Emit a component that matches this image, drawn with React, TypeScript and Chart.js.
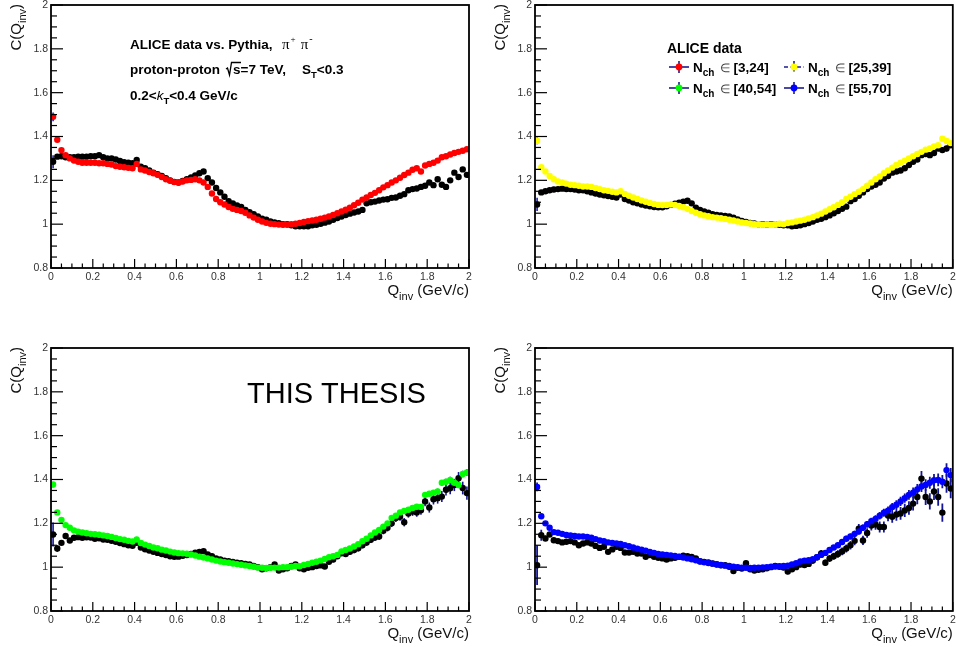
import React, { useEffect, useRef } from 'react';
import { Chart, registerables } from 'chart.js';

Chart.register(...registerables);

// ---------------- data ----------------
const Q_BINS = [
  0.01, 0.03, 0.05, 0.07, 0.09, 0.11, 0.13, 0.15, 0.17, 0.19,
  0.21, 0.23, 0.25, 0.27, 0.29, 0.31, 0.33, 0.35, 0.37, 0.39,
  0.41, 0.43, 0.45, 0.47, 0.49, 0.51, 0.53, 0.55, 0.57, 0.59,
  0.61, 0.63, 0.65, 0.67, 0.69, 0.71, 0.73, 0.75, 0.77, 0.79,
  0.81, 0.83, 0.85, 0.87, 0.89, 0.91, 0.93, 0.95, 0.97, 0.99,
  1.01, 1.03, 1.05, 1.07, 1.09, 1.11, 1.13, 1.15, 1.17, 1.19,
  1.21, 1.23, 1.25, 1.27, 1.29, 1.31, 1.33, 1.35, 1.37, 1.39,
  1.41, 1.43, 1.45, 1.47, 1.49, 1.51, 1.53, 1.55, 1.57, 1.59,
  1.61, 1.63, 1.65, 1.67, 1.69, 1.71, 1.73, 1.75, 1.77, 1.79,
  1.81, 1.83, 1.85, 1.87, 1.89, 1.91, 1.93, 1.95, 1.97, 1.99,
];

const X_TICKS = [0, 0.2, 0.4, 0.6, 0.8, 1, 1.2, 1.4, 1.6, 1.8, 2];
const Y_TICKS = [0.8, 1, 1.2, 1.4, 1.6, 1.8, 2];

// Nch in [3,24]
const ALICE_3_24 = [
  1.49, 1.385, 1.338, 1.315, 1.3, 1.29, 1.285, 1.28, 1.28, 1.28,
  1.28, 1.278, 1.278, 1.275, 1.272, 1.265, 1.262, 1.26, 1.257, 1.255,
  1.275, 1.25, 1.245, 1.238, 1.232, 1.225, 1.215, 1.205, 1.198, 1.192,
  1.19, 1.195, 1.2, 1.202, 1.205, 1.2, 1.19, 1.17, 1.14, 1.115,
  1.1, 1.09, 1.078, 1.07, 1.065, 1.06, 1.052, 1.04, 1.03, 1.02,
  1.012, 1.006, 1.002, 1.0, 0.998, 0.997, 0.997, 1.0, 1.002, 1.005,
  1.01, 1.014, 1.017, 1.02, 1.025, 1.03, 1.035, 1.042, 1.05, 1.058,
  1.066, 1.075, 1.086, 1.098, 1.112, 1.122, 1.133, 1.143, 1.155, 1.168,
  1.178, 1.19, 1.2, 1.212, 1.224, 1.235, 1.248, 1.255, 1.24, 1.268,
  1.275, 1.28, 1.29, 1.305, 1.31, 1.318, 1.325, 1.33, 1.335, 1.342,
];
const PYTHIA_3_24 = [
  1.285, 1.308, 1.31, 1.305, 1.305, 1.305, 1.308, 1.308, 1.308, 1.31,
  1.31, 1.315, 1.305, 1.3, 1.3, 1.295, 1.288, 1.283, 1.28, 1.278,
  1.293, 1.262, 1.255, 1.245, 1.235, 1.228, 1.22, 1.21, 1.2, 1.193,
  1.19, 1.197, 1.205, 1.213, 1.222, 1.232, 1.24, 1.21, 1.19, 1.165,
  1.145, 1.125, 1.105, 1.095, 1.085, 1.078, 1.065, 1.055, 1.045, 1.035,
  1.025, 1.02, 1.012, 1.008, 1.004, 1.0, 1.0, 0.995, 0.99, 0.99,
  0.99, 0.99, 0.995, 0.997, 1.002, 1.007, 1.012, 1.02, 1.028, 1.035,
  1.042, 1.048, 1.053, 1.058, 1.065, 1.095, 1.1, 1.103, 1.108, 1.112,
  1.114, 1.12, 1.122, 1.13, 1.137, 1.155, 1.16, 1.163, 1.17, 1.175,
  1.19, 1.178, 1.205, 1.18, 1.17, 1.2, 1.235, 1.215, 1.25, 1.225,
];
const ERR_ALICE_3_24 = [
  0.02, 0.006, 0.004, 0.003, 0.003, 0.003, 0.003, 0.003, 0.003, 0.003,
  0.003, 0.003, 0.003, 0.003, 0.003, 0.003, 0.003, 0.003, 0.003, 0.003,
  0.003, 0.003, 0.003, 0.003, 0.003, 0.003, 0.003, 0.003, 0.003, 0.003,
  0.003, 0.003, 0.003, 0.003, 0.003, 0.003, 0.003, 0.003, 0.003, 0.003,
  0.003, 0.003, 0.003, 0.003, 0.003, 0.003, 0.003, 0.003, 0.003, 0.003,
  0.003, 0.003, 0.003, 0.003, 0.003, 0.003, 0.003, 0.003, 0.003, 0.003,
  0.003, 0.003, 0.003, 0.003, 0.003, 0.003, 0.003, 0.003, 0.003, 0.003,
  0.004, 0.004, 0.004, 0.004, 0.004, 0.004, 0.004, 0.004, 0.004, 0.004,
  0.004, 0.004, 0.004, 0.004, 0.004, 0.004, 0.004, 0.004, 0.004, 0.004,
  0.005, 0.005, 0.005, 0.005, 0.005, 0.005, 0.005, 0.005, 0.005, 0.005,
];
const ERR_PYTHIA_3_24 = [
  0.03, 0.008, 0.005, 0.004, 0.004, 0.004, 0.004, 0.004, 0.004, 0.004,
  0.004, 0.004, 0.004, 0.004, 0.004, 0.004, 0.004, 0.004, 0.004, 0.004,
  0.004, 0.004, 0.004, 0.004, 0.004, 0.004, 0.004, 0.004, 0.004, 0.004,
  0.004, 0.004, 0.004, 0.004, 0.004, 0.004, 0.004, 0.004, 0.004, 0.004,
  0.004, 0.004, 0.004, 0.004, 0.004, 0.004, 0.004, 0.004, 0.004, 0.004,
  0.004, 0.004, 0.004, 0.004, 0.004, 0.004, 0.004, 0.004, 0.004, 0.004,
  0.005, 0.005, 0.005, 0.005, 0.005, 0.005, 0.005, 0.005, 0.005, 0.005,
  0.005, 0.005, 0.005, 0.005, 0.005, 0.005, 0.005, 0.005, 0.005, 0.005,
  0.006, 0.006, 0.006, 0.006, 0.006, 0.006, 0.006, 0.006, 0.006, 0.006,
  0.007, 0.007, 0.007, 0.007, 0.007, 0.007, 0.007, 0.007, 0.007, 0.007,
];

// Nch in [25,39]
const ALICE_25_39 = [
  1.38, 1.26, 1.24, 1.22, 1.205, 1.195, 1.19, 1.185, 1.18, 1.178,
  1.175, 1.172, 1.172, 1.17, 1.165, 1.16, 1.155, 1.152, 1.148, 1.145,
  1.15, 1.138, 1.13, 1.122, 1.115, 1.108, 1.102, 1.097, 1.092, 1.088,
  1.087, 1.088, 1.09, 1.088, 1.083, 1.077, 1.07, 1.06, 1.052, 1.045,
  1.04, 1.036, 1.032, 1.03, 1.027, 1.024, 1.02, 1.017, 1.012, 1.008,
  1.005, 1.003, 1.0, 1.0, 0.998, 0.998, 0.997, 1.0, 1.002, 1.0,
  1.005, 1.008, 1.012, 1.016, 1.02, 1.026, 1.032, 1.04, 1.048, 1.058,
  1.068, 1.077, 1.088, 1.1, 1.115, 1.125, 1.137, 1.148, 1.16, 1.175,
  1.19, 1.205, 1.218, 1.232, 1.245, 1.258, 1.27, 1.28, 1.29, 1.3,
  1.31, 1.32, 1.33, 1.34, 1.345, 1.355, 1.36, 1.39, 1.38, 1.37,
];
const PYTHIA_25_39 = [
  1.09, 1.145, 1.15, 1.155, 1.158, 1.16, 1.162, 1.16, 1.16, 1.158,
  1.155, 1.155, 1.15, 1.145, 1.14, 1.135, 1.132, 1.128, 1.125, 1.122,
  1.135, 1.115, 1.108, 1.1, 1.095, 1.09, 1.085, 1.082, 1.078, 1.077,
  1.077, 1.082, 1.088, 1.093, 1.098, 1.103, 1.107, 1.095, 1.075, 1.065,
  1.058, 1.052, 1.046, 1.042, 1.04, 1.038, 1.035, 1.03, 1.022, 1.015,
  1.01, 1.005, 1.003, 1.0, 1.0, 0.998, 1.0, 1.0, 0.997, 0.995,
  0.995, 0.99, 0.992, 0.995, 1.0, 1.005, 1.012, 1.02, 1.025, 1.032,
  1.04, 1.05, 1.06, 1.07, 1.08, 1.105, 1.115, 1.13, 1.145, 1.16,
  1.172, 1.18, 1.19, 1.208, 1.22, 1.235, 1.24, 1.245, 1.255, 1.27,
  1.285, 1.295, 1.315, 1.32, 1.315, 1.325, 1.345, 1.338, 1.345, 1.36,
];
const ERR_ALICE_25_39 = [
  0.015, 0.005, 0.004, 0.003, 0.003, 0.003, 0.003, 0.003, 0.003, 0.003,
  0.003, 0.003, 0.003, 0.003, 0.003, 0.003, 0.003, 0.003, 0.003, 0.003,
  0.003, 0.003, 0.003, 0.003, 0.003, 0.003, 0.003, 0.003, 0.003, 0.003,
  0.003, 0.003, 0.003, 0.003, 0.003, 0.003, 0.003, 0.003, 0.003, 0.003,
  0.003, 0.003, 0.003, 0.003, 0.003, 0.003, 0.003, 0.003, 0.003, 0.003,
  0.003, 0.003, 0.003, 0.003, 0.003, 0.003, 0.003, 0.003, 0.003, 0.003,
  0.004, 0.004, 0.004, 0.004, 0.004, 0.004, 0.004, 0.004, 0.004, 0.004,
  0.004, 0.004, 0.004, 0.004, 0.004, 0.005, 0.005, 0.005, 0.005, 0.005,
  0.005, 0.005, 0.005, 0.005, 0.005, 0.006, 0.006, 0.006, 0.006, 0.006,
  0.006, 0.006, 0.006, 0.007, 0.007, 0.007, 0.007, 0.007, 0.007, 0.007,
];
const ERR_PYTHIA_25_39 = [
  0.03, 0.01, 0.006, 0.005, 0.004, 0.004, 0.004, 0.004, 0.004, 0.004,
  0.004, 0.004, 0.004, 0.004, 0.004, 0.004, 0.004, 0.004, 0.004, 0.004,
  0.004, 0.004, 0.004, 0.004, 0.004, 0.004, 0.004, 0.004, 0.004, 0.004,
  0.004, 0.004, 0.004, 0.004, 0.004, 0.004, 0.004, 0.004, 0.004, 0.004,
  0.004, 0.004, 0.004, 0.004, 0.004, 0.004, 0.004, 0.004, 0.004, 0.004,
  0.005, 0.005, 0.005, 0.005, 0.005, 0.005, 0.005, 0.005, 0.005, 0.005,
  0.005, 0.005, 0.005, 0.005, 0.005, 0.006, 0.006, 0.006, 0.006, 0.006,
  0.006, 0.006, 0.006, 0.007, 0.007, 0.007, 0.007, 0.007, 0.008, 0.008,
  0.008, 0.008, 0.009, 0.009, 0.009, 0.009, 0.01, 0.01, 0.01, 0.01,
  0.011, 0.011, 0.011, 0.011, 0.012, 0.012, 0.012, 0.012, 0.013, 0.013,
];

// Nch in [40,54]
const ALICE_40_54 = [
  1.377, 1.25, 1.216, 1.192, 1.18, 1.168, 1.162, 1.158, 1.155, 1.152,
  1.15, 1.148, 1.145, 1.142, 1.138, 1.133, 1.128, 1.125, 1.12, 1.117,
  1.126, 1.11, 1.103, 1.097, 1.09, 1.086, 1.08, 1.076, 1.071, 1.067,
  1.064, 1.063, 1.061, 1.058, 1.053, 1.048, 1.044, 1.04, 1.035, 1.03,
  1.026, 1.023, 1.02, 1.017, 1.014, 1.011, 1.008, 1.005, 1.002, 0.998,
  0.997, 0.996, 0.997, 0.998, 0.998, 1.0, 1.0, 1.002, 1.005, 1.004,
  1.01, 1.015, 1.02, 1.025, 1.03, 1.037, 1.045, 1.05, 1.056, 1.072,
  1.078, 1.085, 1.094, 1.105, 1.118, 1.13, 1.145, 1.158, 1.17, 1.185,
  1.2, 1.225, 1.235, 1.25, 1.256, 1.262, 1.27, 1.276, 1.275, 1.33,
  1.335, 1.34, 1.345, 1.385, 1.39, 1.398, 1.385, 1.375, 1.425, 1.432,
];
const PYTHIA_40_54 = [
  1.149, 1.085, 1.111, 1.142, 1.122, 1.134, 1.137, 1.134, 1.136, 1.135,
  1.13, 1.132, 1.126, 1.125, 1.12, 1.116, 1.11, 1.105, 1.1, 1.098,
  1.111, 1.09, 1.082, 1.076, 1.07, 1.065, 1.06, 1.055, 1.05, 1.047,
  1.048, 1.052, 1.055, 1.06, 1.066, 1.07, 1.073, 1.058, 1.05, 1.04,
  1.035, 1.03, 1.027, 1.024, 1.02, 1.018, 1.015, 1.012, 1.005, 1.0,
  0.99, 0.995, 1.0, 1.012, 0.985, 0.99, 0.995, 1.005, 1.012, 0.995,
  0.99, 0.997, 1.0, 1.005, 1.008, 1.003, 1.025, 1.035, 1.05, 1.063,
  1.06, 1.07, 1.078, 1.086, 1.1, 1.112, 1.125, 1.135, 1.14, 1.166,
  1.18, 1.2, 1.224, 1.23, 1.205, 1.245, 1.254, 1.25, 1.26, 1.3,
  1.272, 1.31, 1.315, 1.322, 1.353, 1.36, 1.375, 1.406, 1.361, 1.338,
];
const ERR_ALICE_40_54 = [
  0.012, 0.005, 0.004, 0.004, 0.004, 0.004, 0.004, 0.004, 0.004, 0.004,
  0.004, 0.004, 0.004, 0.004, 0.004, 0.004, 0.004, 0.004, 0.004, 0.004,
  0.004, 0.004, 0.004, 0.004, 0.004, 0.004, 0.004, 0.004, 0.004, 0.004,
  0.004, 0.004, 0.004, 0.004, 0.004, 0.004, 0.004, 0.004, 0.004, 0.004,
  0.004, 0.004, 0.004, 0.004, 0.004, 0.004, 0.004, 0.004, 0.004, 0.004,
  0.005, 0.005, 0.005, 0.005, 0.005, 0.005, 0.005, 0.005, 0.005, 0.005,
  0.006, 0.006, 0.006, 0.006, 0.006, 0.006, 0.006, 0.007, 0.007, 0.007,
  0.007, 0.007, 0.008, 0.008, 0.008, 0.008, 0.009, 0.009, 0.009, 0.009,
  0.01, 0.01, 0.01, 0.01, 0.011, 0.011, 0.011, 0.011, 0.012, 0.012,
  0.012, 0.012, 0.013, 0.013, 0.013, 0.014, 0.014, 0.014, 0.015, 0.015,
];
const ERR_PYTHIA_40_54 = [
  0.055, 0.015, 0.01, 0.008, 0.007, 0.006, 0.006, 0.006, 0.006, 0.006,
  0.006, 0.006, 0.006, 0.006, 0.006, 0.006, 0.006, 0.006, 0.006, 0.006,
  0.006, 0.006, 0.006, 0.006, 0.006, 0.006, 0.006, 0.006, 0.006, 0.006,
  0.006, 0.006, 0.006, 0.006, 0.006, 0.006, 0.006, 0.006, 0.006, 0.006,
  0.006, 0.006, 0.006, 0.006, 0.006, 0.006, 0.006, 0.006, 0.006, 0.006,
  0.008, 0.008, 0.008, 0.008, 0.008, 0.008, 0.008, 0.008, 0.008, 0.008,
  0.01, 0.01, 0.01, 0.01, 0.011, 0.011, 0.011, 0.012, 0.012, 0.012,
  0.013, 0.013, 0.014, 0.014, 0.014, 0.015, 0.015, 0.016, 0.016, 0.016,
  0.017, 0.017, 0.018, 0.018, 0.019, 0.019, 0.02, 0.02, 0.021, 0.022,
  0.023, 0.024, 0.025, 0.025, 0.026, 0.027, 0.028, 0.028, 0.029, 0.03,
];

// Nch in [55,70]
const ALICE_55_70 = [
  1.366, 1.232, 1.2, 1.18, 1.16, 1.157, 1.152, 1.147, 1.145, 1.142,
  1.14, 1.14, 1.138, 1.134, 1.128, 1.122, 1.118, 1.113, 1.11, 1.108,
  1.106, 1.1, 1.096, 1.09, 1.084, 1.08, 1.075, 1.07, 1.065, 1.06,
  1.058, 1.056, 1.054, 1.051, 1.048, 1.044, 1.04, 1.036, 1.031, 1.026,
  1.022, 1.019, 1.016, 1.013, 1.01, 1.007, 1.005, 1.002, 1.0, 0.998,
  0.997, 0.996, 0.997, 0.998, 0.999, 1.0, 1.002, 1.003, 1.004, 1.005,
  1.007, 1.012, 1.018, 1.026, 1.03, 1.032, 1.036, 1.045, 1.056, 1.065,
  1.078, 1.09, 1.1, 1.115, 1.13, 1.14, 1.152, 1.163, 1.18, 1.196,
  1.21, 1.22, 1.235, 1.248, 1.258, 1.274, 1.285, 1.3, 1.315, 1.33,
  1.34, 1.355, 1.368, 1.375, 1.385, 1.397, 1.398, 1.39, 1.443, 1.42,
];
const PYTHIA_55_70 = [
  1.009, 1.146, 1.131, 1.149, 1.123, 1.119, 1.113, 1.116, 1.119, 1.113,
  1.1, 1.108, 1.113, 1.108, 1.097, 1.088, 1.093, 1.07, 1.081, 1.093,
  1.088, 1.067, 1.067, 1.07, 1.062, 1.062, 1.047, 1.055, 1.047, 1.043,
  1.04, 1.035, 1.04, 1.043, 1.047, 1.052, 1.05, 1.047, 1.04, 1.027,
  1.024, 1.021, 1.017, 1.012, 1.009, 1.009, 1.002, 0.982, 0.997, 0.994,
  1.018, 0.99, 0.985, 0.988, 0.99, 0.995, 1.0, 1.005, 1.002, 0.998,
  0.98, 0.99, 1.0, 1.012, 1.01, 1.015, 1.03, 1.045, 1.063, 1.02,
  1.04, 1.05, 1.06, 1.072, 1.085, 1.1, 1.12, 1.176, 1.122, 1.156,
  1.19, 1.195, 1.183, 1.183, 1.236, 1.23, 1.24, 1.245, 1.259, 1.27,
  1.29, 1.32, 1.404, 1.32, 1.3, 1.345, 1.32, 1.249, 1.382, 1.359,
];
const ERR_ALICE_55_70 = [
  0.02, 0.01, 0.006, 0.005, 0.004, 0.004, 0.004, 0.004, 0.004, 0.004,
  0.004, 0.004, 0.004, 0.004, 0.004, 0.004, 0.004, 0.004, 0.004, 0.004,
  0.004, 0.004, 0.004, 0.004, 0.004, 0.004, 0.004, 0.004, 0.004, 0.004,
  0.004, 0.004, 0.004, 0.004, 0.004, 0.004, 0.004, 0.004, 0.004, 0.004,
  0.004, 0.004, 0.004, 0.004, 0.004, 0.004, 0.004, 0.004, 0.004, 0.004,
  0.006, 0.006, 0.006, 0.006, 0.006, 0.006, 0.006, 0.006, 0.006, 0.006,
  0.008, 0.008, 0.008, 0.009, 0.009, 0.009, 0.01, 0.01, 0.01, 0.01,
  0.011, 0.011, 0.012, 0.012, 0.013, 0.013, 0.014, 0.014, 0.015, 0.015,
  0.016, 0.017, 0.017, 0.018, 0.019, 0.019, 0.02, 0.021, 0.021, 0.022,
  0.023, 0.024, 0.025, 0.026, 0.027, 0.028, 0.029, 0.03, 0.031, 0.032,
];
const ERR_PYTHIA_55_70 = [
  0.09, 0.025, 0.012, 0.01, 0.008, 0.007, 0.007, 0.007, 0.007, 0.007,
  0.007, 0.007, 0.007, 0.007, 0.007, 0.007, 0.007, 0.007, 0.007, 0.007,
  0.007, 0.007, 0.007, 0.007, 0.007, 0.007, 0.007, 0.007, 0.007, 0.007,
  0.007, 0.007, 0.007, 0.007, 0.007, 0.007, 0.007, 0.007, 0.007, 0.007,
  0.007, 0.007, 0.007, 0.007, 0.007, 0.007, 0.007, 0.007, 0.007, 0.007,
  0.01, 0.01, 0.01, 0.01, 0.01, 0.01, 0.01, 0.01, 0.01, 0.01,
  0.012, 0.012, 0.012, 0.012, 0.013, 0.013, 0.014, 0.014, 0.015, 0.015,
  0.016, 0.016, 0.017, 0.018, 0.018, 0.019, 0.02, 0.021, 0.021, 0.022,
  0.023, 0.024, 0.025, 0.025, 0.026, 0.027, 0.028, 0.029, 0.03, 0.031,
  0.032, 0.033, 0.035, 0.036, 0.037, 0.038, 0.04, 0.042, 0.043, 0.045,
];

const LEGEND_TITLE = 'ALICE data';
const LEGEND_LABELS = ['[3,24]', '[25,39]', '[40,54]', '[55,70]'];
const SERIES_COLORS = ['#ff0000', '#ffff00', '#00ff00', '#0000ff'];

// ---------------- styles ----------------
const SANS = "'Liberation Sans', Arial, Helvetica, sans-serif";
const SERIF = "'Liberation Serif', 'DejaVu Serif', serif";
const ERR_COLOR = '#14149a';
const LEG_LINE = '#1c1c8c';
const POINT_R = 3.2;

type Run = { t: string; font: string; dy?: number; color?: string; dx?: number };

function runsWidth(ctx: CanvasRenderingContext2D, runs: Run[]) {
  let w = 0;
  for (const r of runs) {
    ctx.font = r.font;
    w += ctx.measureText(r.t).width + (r.dx || 0);
  }
  return w;
}

function drawRuns(ctx: CanvasRenderingContext2D, runs: Run[], x: number, y: number, align: 'left' | 'right' = 'left') {
  ctx.textAlign = 'left';
  ctx.textBaseline = 'alphabetic';
  let cx = align === 'right' ? x - runsWidth(ctx, runs) : x;
  for (const r of runs) {
    cx += r.dx || 0;
    ctx.font = r.font;
    ctx.fillStyle = r.color || '#000';
    ctx.fillText(r.t, cx, y + (r.dy || 0));
    cx += ctx.measureText(r.t).width;
  }
  return cx;
}

function line(ctx: CanvasRenderingContext2D, x1: number, y1: number, x2: number, y2: number) {
  ctx.beginPath();
  ctx.moveTo(x1, y1);
  ctx.lineTo(x2, y2);
  ctx.stroke();
}

type PanelCfg = {
  left: number; top: number; width: number; height: number;
  area: { l: number; t: number; r: number; b: number };
  color: string;
  alice: number[]; aliceErr: number[];
  pythia: number[]; pythiaErr: number[];
  note: 'text' | 'legend' | 'thesis' | 'none';
  errWidth: number;
};

const PANELS: PanelCfg[] = [
  { left: 0, top: 0, width: 478, height: 323, area: { l: 51, t: 5, r: 469, b: 268 }, color: SERIES_COLORS[0],
    alice: ALICE_3_24, aliceErr: ERR_ALICE_3_24, pythia: PYTHIA_3_24, pythiaErr: ERR_PYTHIA_3_24, note: 'text', errWidth: 1.5 },
  { left: 478, top: 0, width: 478, height: 323, area: { l: 57, t: 5, r: 475, b: 268 }, color: SERIES_COLORS[1],
    alice: ALICE_25_39, aliceErr: ERR_ALICE_25_39, pythia: PYTHIA_25_39, pythiaErr: ERR_PYTHIA_25_39, note: 'legend', errWidth: 1.5 },
  { left: 0, top: 323, width: 478, height: 324, area: { l: 51, t: 25, r: 469, b: 288 }, color: SERIES_COLORS[2],
    alice: ALICE_40_54, aliceErr: ERR_ALICE_40_54, pythia: PYTHIA_40_54, pythiaErr: ERR_PYTHIA_40_54, note: 'thesis', errWidth: 1.6 },
  { left: 478, top: 323, width: 478, height: 324, area: { l: 57, t: 25, r: 475, b: 288 }, color: SERIES_COLORS[3],
    alice: ALICE_55_70, aliceErr: ERR_ALICE_55_70, pythia: PYTHIA_55_70, pythiaErr: ERR_PYTHIA_55_70, note: 'none', errWidth: 1.8 },
];

function fmt(v: number) {
  return String(Number(Number(v).toFixed(2)));
}

function drawTextNote(ctx: CanvasRenderingContext2D) {
  const B = `bold 13.5px ${SANS}`;
  const BS = `bold 9.5px ${SANS}`;
  const x = 130;
  // line 1
  drawRuns(ctx, [{ t: 'ALICE data vs. Pythia,', font: B }], x, 49);
  drawRuns(ctx, [
    { t: 'π', font: `15px ${SERIF}` },
    { t: '+', font: `9px ${SERIF}`, dy: -7, dx: 1 },
    { t: 'π', font: `15px ${SERIF}`, dx: 5 },
    { t: '-', font: `10px ${SERIF}`, dy: -7, dx: 1 },
  ], 282, 49);
  // line 2
  drawRuns(ctx, [{ t: 'proton-proton', font: B }], x, 74);
  ctx.strokeStyle = '#000';
  ctx.lineWidth = 1.3;
  ctx.beginPath();
  ctx.moveTo(226, 69);
  ctx.lineTo(227.5, 68);
  ctx.lineTo(229.5, 75);
  ctx.lineTo(231.5, 62.5);
  ctx.lineTo(241, 62.5);
  ctx.stroke();
  drawRuns(ctx, [{ t: 's=7 TeV,', font: B }], 233, 74);
  drawRuns(ctx, [
    { t: 'S', font: B },
    { t: 'T', font: BS, dy: 4 },
    { t: '<0.3', font: B },
  ], 302, 74);
  // line 3
  drawRuns(ctx, [
    { t: '0.2<', font: B },
    { t: 'k', font: `italic 13.5px ${SANS}` },
    { t: 'T', font: BS, dy: 4 },
    { t: '<0.4 GeV/c', font: B },
  ], x, 100);
}

function drawLegendMarker(ctx: CanvasRenderingContext2D, cx: number, cy: number, color: string, dashed: boolean) {
  ctx.save();
  ctx.strokeStyle = LEG_LINE;
  ctx.lineWidth = 1.6;
  if (dashed) ctx.setLineDash([4, 2.5]);
  line(ctx, cx - 10, cy, cx + 10, cy);
  line(ctx, cx, cy - 6, cx, cy + 6);
  ctx.restore();
  ctx.fillStyle = color;
  ctx.beginPath();
  ctx.arc(cx, cy, 3.4, 0, Math.PI * 2);
  ctx.fill();
}

function drawLegend(ctx: CanvasRenderingContext2D) {
  const B = `bold 13.5px ${SANS}`;
  drawRuns(ctx, [{ t: LEGEND_TITLE, font: `bold 14px ${SANS}` }], 189, 53);
  const cols = [201, 316];
  const rows = [67, 88];
  LEGEND_LABELS.forEach((lab, i) => {
    const cx = cols[i % 2];
    const cy = rows[Math.floor(i / 2)];
    drawLegendMarker(ctx, cx, cy, SERIES_COLORS[i], i === 1);
    drawRuns(ctx, [
      { t: 'N', font: B },
      { t: 'ch', font: `bold 10px ${SANS}`, dy: 4 },
      { t: '∈', font: `12px ${SANS}`, color: '#444', dx: 6 },
      { t: lab, font: B, dx: 3 },
    ], cx + 14, cy + 5);
  });
}

function makePlugin(cfg: PanelCfg) {
  return {
    id: 'rootStyle',
    beforeDatasetsDraw(chart: any) {
      const ctx: CanvasRenderingContext2D = chart.ctx;
      const ys = chart.scales.y;
      const { left, right, top, bottom } = chart.chartArea;
      ctx.save();
      ctx.beginPath();
      ctx.rect(left, top, right - left, bottom - top);
      ctx.clip();
      ctx.strokeStyle = ERR_COLOR;
      ctx.lineWidth = cfg.errWidth;
      chart.data.datasets.forEach((ds: any, di: number) => {
        const meta = chart.getDatasetMeta(di);
        const errs: number[] = ds.errors || [];
        meta.data.forEach((pt: any, j: number) => {
          const e = errs[j];
          if (!e) return;
          const v = ds.data[j].y;
          line(ctx, pt.x, ys.getPixelForValue(v + e), pt.x, ys.getPixelForValue(v - e));
        });
      });
      ctx.restore();
    },
    afterDraw(chart: any) {
      const ctx: CanvasRenderingContext2D = chart.ctx;
      const xs = chart.scales.x;
      const ys = chart.scales.y;
      const { left, right, top, bottom } = chart.chartArea;
      ctx.save();
      ctx.strokeStyle = '#000';
      // ticks (ROOT style, inward)
      ctx.lineWidth = 1.2;
      for (let i = 0; i < X_TICKS.length; i++) {
        const px = xs.getPixelForValue(X_TICKS[i]);
        line(ctx, px, bottom, px, bottom - 9);
        if (i < X_TICKS.length - 1) {
          const step = (X_TICKS[i + 1] - X_TICKS[i]) / 4;
          for (let k = 1; k < 4; k++) {
            const mx = xs.getPixelForValue(X_TICKS[i] + k * step);
            line(ctx, mx, bottom, mx, bottom - 4.5);
          }
        }
      }
      for (let i = 0; i < Y_TICKS.length; i++) {
        const py = ys.getPixelForValue(Y_TICKS[i]);
        line(ctx, left, py, left + 12, py);
        if (i < Y_TICKS.length - 1) {
          const step = (Y_TICKS[i + 1] - Y_TICKS[i]) / 4;
          for (let k = 1; k < 4; k++) {
            const my = ys.getPixelForValue(Y_TICKS[i] + k * step);
            line(ctx, left, my, left + 6, my);
          }
        }
      }
      // frame
      ctx.lineWidth = 1.8;
      ctx.strokeRect(left, top, right - left, bottom - top);

      // axis titles
      const T = `15px ${SANS}`;
      const TS = `11px ${SANS}`;
      drawRuns(ctx, [
        { t: 'Q', font: T, color: '#111' },
        { t: 'inv', font: TS, dy: 5, color: '#111' },
        { t: ' (GeV/c)', font: T, color: '#111' },
      ], right, bottom + 27, 'right');
      ctx.save();
      ctx.translate(left - 30, top - 1);
      ctx.rotate(-Math.PI / 2);
      drawRuns(ctx, [
        { t: 'C(Q', font: T, color: '#111' },
        { t: 'inv', font: TS, dy: 5, color: '#111' },
        { t: ')', font: T, color: '#111' },
      ], 0, 0, 'right');
      ctx.restore();

      if (cfg.note === 'text') drawTextNote(ctx);
      if (cfg.note === 'legend') drawLegend(ctx);
      if (cfg.note === 'thesis') {
        drawRuns(ctx, [{ t: 'THIS THESIS', font: `29px ${SANS}` }], 247, 80);
      }
      ctx.restore();
    },
  };
}

function Panel({ cfg }: { cfg: PanelCfg }) {
  const ref = useRef<HTMLCanvasElement | null>(null);
  useEffect(() => {
    if (!ref.current) return;
    const toPts = (arr: number[]) => arr.map((v, i) => ({ x: Q_BINS[i], y: v }));
    const chart = new Chart(ref.current, {
      type: 'scatter',
      data: {
        datasets: [
          {
            label: 'ALICE',
            data: toPts(cfg.alice),
            errors: cfg.aliceErr,
            pointRadius: POINT_R,
            pointHoverRadius: POINT_R,
            pointBorderWidth: 0,
            pointBackgroundColor: cfg.color,
            borderColor: cfg.color,
            showLine: false,
          } as any,
          {
            label: 'Pythia',
            data: toPts(cfg.pythia),
            errors: cfg.pythiaErr,
            pointRadius: POINT_R,
            pointHoverRadius: POINT_R,
            pointBorderWidth: 0,
            pointBackgroundColor: '#000',
            borderColor: '#000',
            showLine: false,
          } as any,
        ],
      },
      options: {
        animation: false,
        responsive: false,
        maintainAspectRatio: false,
        events: [],
        layout: { padding: { left: 0, top: cfg.area.t, right: cfg.width - cfg.area.r, bottom: 0 } },
        plugins: { legend: { display: false }, tooltip: { enabled: false }, title: { display: false } },
        scales: {
          x: {
            type: 'linear',
            min: X_TICKS[0],
            max: X_TICKS[X_TICKS.length - 1],
            afterBuildTicks: (s: any) => { s.ticks = X_TICKS.map((v) => ({ value: v })); },
            afterFit: (s: any) => { s.height = cfg.height - cfg.area.b; s.paddingLeft = 0; s.paddingRight = 0; },
            grid: { display: false, drawTicks: false },
            border: { display: false },
            ticks: {
              autoSkip: false, maxRotation: 0, padding: 3, color: '#333',
              font: { family: SANS, size: 10.5 },
              callback: (v: any) => fmt(v),
            },
          },
          y: {
            type: 'linear',
            min: Y_TICKS[0],
            max: Y_TICKS[Y_TICKS.length - 1],
            afterBuildTicks: (s: any) => { s.ticks = Y_TICKS.map((v) => ({ value: v })); },
            afterFit: (s: any) => { s.width = cfg.area.l; s.paddingTop = 0; s.paddingBottom = 0; },
            grid: { display: false, drawTicks: false },
            border: { display: false },
            ticks: {
              autoSkip: false, padding: 3, color: '#333',
              font: { family: SANS, size: 10.5 },
              callback: (v: any) => fmt(v),
            },
          },
        },
      } as any,
      plugins: [makePlugin(cfg)],
    });
    return () => chart.destroy();
  }, [cfg]);
  return (
    <canvas
      ref={ref}
      width={cfg.width}
      height={cfg.height}
      style={{ position: 'absolute', left: cfg.left, top: cfg.top, width: cfg.width, height: cfg.height }}
    />
  );
}

export default function App() {
  return (
    <div style={{ position: 'fixed', left: 0, top: 0, width: 956, height: 647, background: '#fff', overflow: 'hidden' }}>
      {PANELS.map((p, i) => (
        <Panel key={i} cfg={p} />
      ))}
    </div>
  );
}
